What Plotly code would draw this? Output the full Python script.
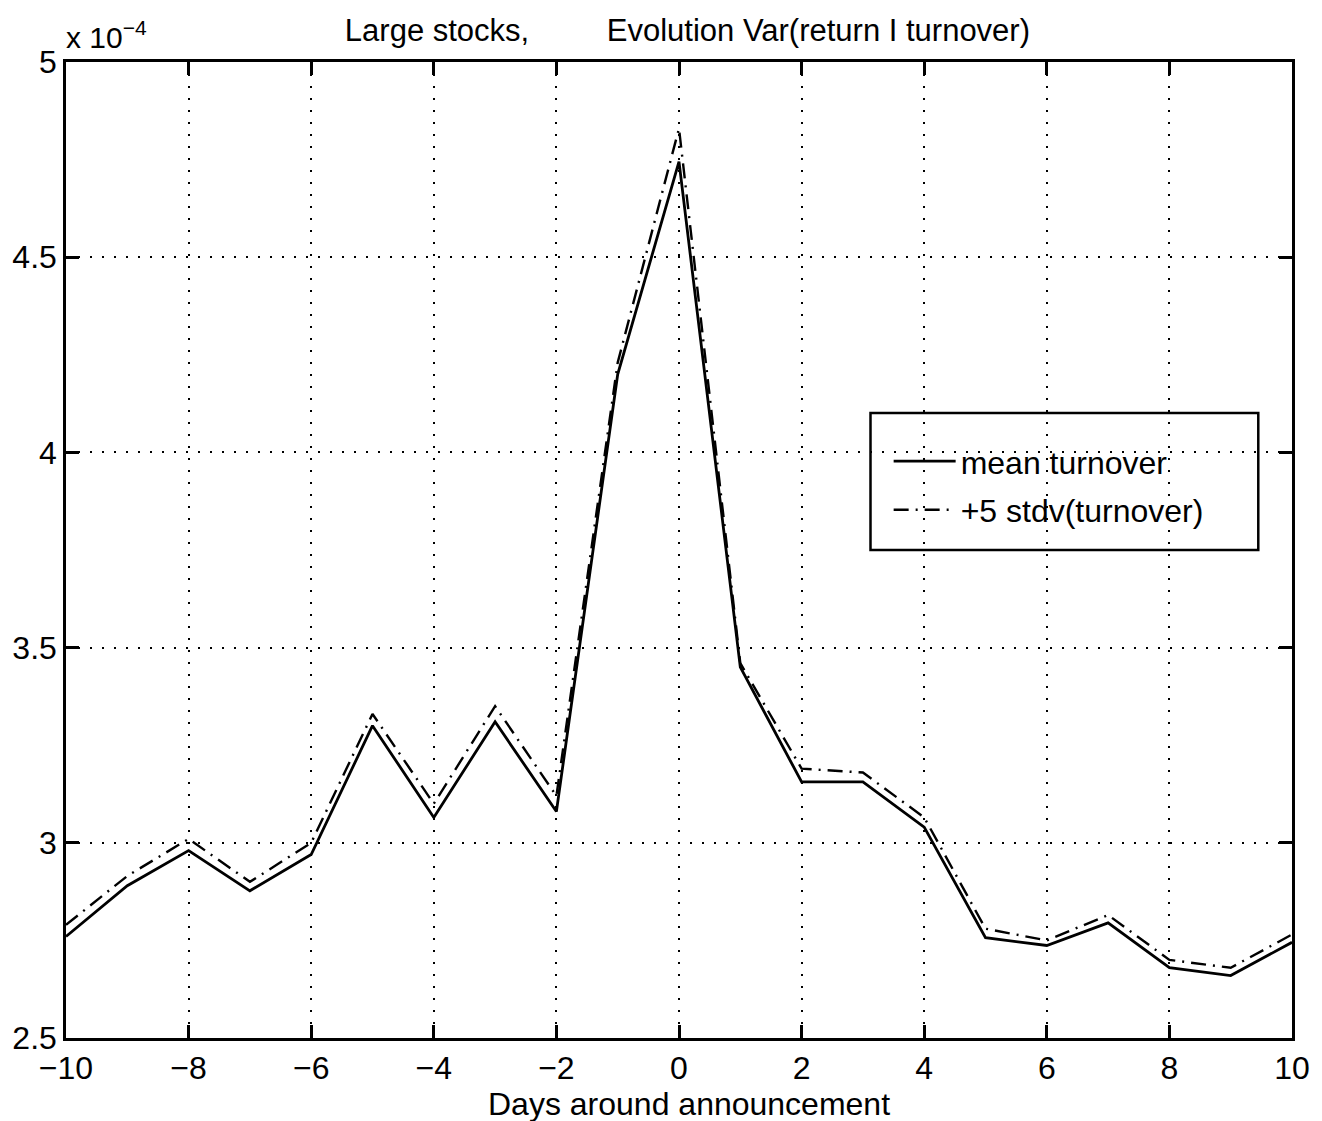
import plotly.graph_objects as go

days = [-10, -9, -8, -7, -6, -5, -4, -3, -2, -1, 0, 1, 2, 3, 4, 5, 6, 7, 8, 9, 10]
# values in units of 1e-4
mean_turnover = [2.76, 2.89, 2.98, 2.877, 2.97, 3.30, 3.065, 3.31, 3.08, 4.20, 4.745,
                 3.45, 3.156, 3.156, 3.04, 2.757, 2.737, 2.795, 2.68, 2.66, 2.745]
plus5_stdv = [2.79, 2.915, 3.01, 2.90, 3.00, 3.33, 3.10, 3.35, 3.12, 4.23, 4.83,
              3.46, 3.19, 3.18, 3.065, 2.78, 2.75, 2.815, 2.70, 2.68, 2.765]

yticks = [2.5, 3, 3.5, 4, 4.5, 5]
ytick_text = ["2.5", "3", "3.5", "4", "4.5", "5"]
xticks = [-10, -8, -6, -4, -2, 0, 2, 4, 6, 8, 10]

FONT = "Liberation Sans, Arial, Helvetica, sans-serif"

fig = go.Figure()
fig.add_trace(go.Scatter(x=days, y=mean_turnover, mode="lines", name="mean turnover",
                         legendgroup="a",
                         line=dict(color="black", width=2.8, dash="solid")))
fig.add_trace(go.Scatter(x=days, y=plus5_stdv, mode="lines", name="+5 stdv(turnover)",
                         legendgroup="b",
                         line=dict(color="black", width=2.4, dash="15px,7px,2px,7px")))

axis_common = dict(showline=True, linecolor="black", linewidth=2.5, mirror="ticks",
                   ticks="inside", ticklen=13, tickwidth=2.5, tickcolor="black",
                   showgrid=True, gridcolor="black", gridwidth=2, griddash="2px,10px",
                   zeroline=False, tickfont=dict(size=32, color="black", family=FONT))

fig.update_xaxes(range=[-10, 10], tickvals=xticks, **axis_common)
fig.update_yaxes(range=[2.5, 5], tickvals=yticks, ticktext=ytick_text, **axis_common)

fig.update_layout(
    width=1322, height=1121,
    margin=dict(l=66, r=21, t=62, b=83),
    paper_bgcolor="white", plot_bgcolor="white",
    font=dict(family=FONT, color="black"),
    title=dict(text="Large stocks," + "\u00a0" * 9 + "Evolution Var(return I turnover)",
               x=0.52, xanchor="center", y=0.973, yanchor="middle",
               font=dict(size=31, color="black", family=FONT)),
    legend=dict(x=0.671, y=0.619, xanchor="left", yanchor="top",
                borderwidth=0, bgcolor="rgba(255,255,255,0)",
                font=dict(size=32, color="black", family=FONT),
                itemwidth=62, tracegroupgap=4, traceorder="grouped"),
    showlegend=True,
    shapes=[dict(type="rect", xref="paper", yref="paper",
                 x0=0.6562, x1=0.9725, y0=0.5, y1=0.6404,
                 line=dict(color="black", width=2.5), fillcolor="rgba(0,0,0,0)")],
    annotations=[
        dict(text="x 10<sup>−4</sup>", xref="paper", yref="paper", x=0.0, y=1.0,
             xanchor="left", yanchor="bottom", showarrow=False, yshift=6, xshift=-2,
             font=dict(size=30, color="black", family=FONT)),
        dict(text="Days around announcement", xref="paper", yref="paper", x=0.5, y=0.0,
             xanchor="center", yanchor="top", showarrow=False, yshift=-46, xshift=10,
             font=dict(size=32, color="black", family=FONT)),
    ],
)

fig.write_html("out.html")
